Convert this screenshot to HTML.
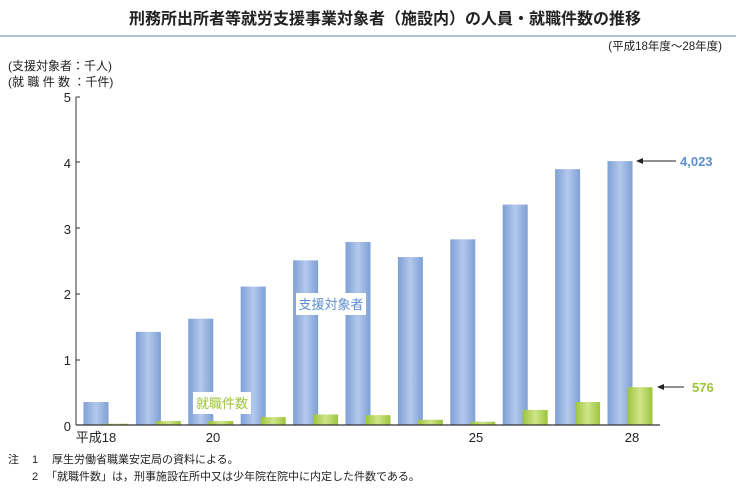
<!DOCTYPE html><html><head><meta charset="utf-8"><style>
body{margin:0;background:#fff;width:736px;height:488px;overflow:hidden;font-family:"Liberation Sans","Noto Sans CJK JP",sans-serif;}
</style></head><body>
<svg width="736" height="488" xmlns="http://www.w3.org/2000/svg" font-family="Liberation Sans, Noto Sans CJK JP, sans-serif">
<defs>
<linearGradient id="b" x1="0" x2="1"><stop offset="0" stop-color="#7e9fd6"/><stop offset="0.5" stop-color="#b4c9ec"/><stop offset="1" stop-color="#7e9fd6"/></linearGradient>
<linearGradient id="g" x1="0" x2="1"><stop offset="0" stop-color="#9cc43a"/><stop offset="0.5" stop-color="#cfe58a"/><stop offset="1" stop-color="#9cc43a"/></linearGradient>
</defs>
<text x="385" y="24" font-size="16" font-weight="bold" text-anchor="middle" fill="#222">刑務所出所者等就労支援事業対象者（施設内）の人員・就職件数の推移</text>
<line x1="0" y1="36" x2="736" y2="36" stroke="#8fb0d0" stroke-width="1.5"/>
<text x="722" y="50" font-size="11.5" text-anchor="end" fill="#222">(平成18年度〜28年度)</text>
<text x="8" y="70" font-size="12" fill="#222">(支援対象者：千人)</text>
<text x="8" y="86" font-size="12" fill="#222">(就 職 件 数 ：千件)</text>
<g font-size="13" fill="#222" text-anchor="end">
<text x="71" y="102">5</text><text x="71" y="168">4</text><text x="71" y="234">3</text><text x="71" y="299">2</text><text x="71" y="365">1</text><text x="71" y="431">0</text>
</g>
<line x1="76" y1="97" x2="76" y2="425" stroke="#333"/>
<g stroke="#333"><line x1="76" y1="97" x2="80" y2="97"/><line x1="76" y1="162" x2="80" y2="162"/><line x1="76" y1="228" x2="80" y2="228"/><line x1="76" y1="294" x2="80" y2="294"/><line x1="76" y1="360" x2="80" y2="360"/></g>
<g id="bars"></g>
<line x1="76" y1="425" x2="660" y2="425" stroke="#333" stroke-width="1.2"/>
<g font-size="13" fill="#222" text-anchor="middle">
<text x="96" y="442">平成18</text><text x="213" y="442">20</text><text x="476" y="442">25</text><text x="632" y="442">28</text>
</g>
<rect x="296" y="293" width="70" height="22" fill="#fff"/>
<text x="331" y="309" font-size="13" fill="#5d8fd4" text-anchor="middle">支援対象者</text>
<rect x="193" y="392" width="58" height="22" fill="#fff"/>
<text x="222" y="408" font-size="13" fill="#9cc43a" text-anchor="middle">就職件数</text>
<line x1="638" y1="161" x2="676" y2="161" stroke="#222"/><path d="M636 161l7-3v6z" fill="#222"/>
<text x="680" y="166" font-size="13" font-weight="bold" fill="#5d8fd4">4,023</text>
<line x1="659" y1="387" x2="684" y2="387" stroke="#222"/><path d="M657 387l7-3v6z" fill="#222"/>
<text x="692" y="392" font-size="13" font-weight="bold" fill="#9cc43a">576</text>
<text x="8" y="463" font-size="11" fill="#222">注</text>
<text x="32" y="463" font-size="11" fill="#222">1</text>
<text x="52" y="463" font-size="11" fill="#222">厚生労働省職業安定局の資料による。</text>
<text x="32" y="480" font-size="11" fill="#222">2</text>
<text x="46" y="480" font-size="11" fill="#222">「就職件数」は，刑事施設在所中又は少年院在院中に内定した件数である。</text>
</svg>
<script>
var B=[0.35,1.42,1.62,2.11,2.51,2.79,2.56,2.83,3.36,3.9,4.023],G=[0.02,0.06,0.06,0.12,0.16,0.15,0.08,0.05,0.23,0.35,0.576];
var s='',u=65.6;
for(var i=0;i<11;i++){var x=83.5+i*52.4;
s+='<rect x="'+x+'" y="'+(425-B[i]*u)+'" width="25" height="'+B[i]*u+'" fill="url(#b)"/>';
s+='<rect x="'+(x+20)+'" y="'+(425-G[i]*u)+'" width="25" height="'+G[i]*u+'" fill="url(#g)"/>';}
document.getElementById('bars').innerHTML=s;
</script>
</body></html>
